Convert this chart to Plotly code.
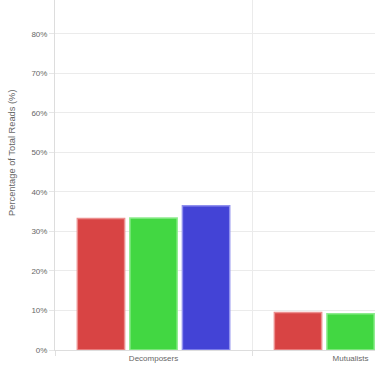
import plotly.graph_objects as go

categories = ["Decomposers", "Mutualists"]
series_names = ["Sample A", "Sample B", "Sample C"]
values_red = [33.3, 9.5]
values_green = [33.4, 9.2]
values_blue = [36.5, 8.8]
y_ticks = [0, 10, 20, 30, 40, 50, 60, 70, 80]
y_tick_labels = ["0%", "10%", "20%", "30%", "40%", "50%", "60%", "70%", "80%"]

fills = ["#D84444", "#42D742", "#4343D6"]
borders = ["#EC8E8E", "#8EEC8E", "#9090EE"]

fig = go.Figure()
for name, vals, fc, bc in zip(series_names, [values_red, values_green, values_blue], fills, borders):
    fig.add_trace(go.Bar(x=categories, y=vals, name=name,
                         marker=dict(color=fc, line=dict(color=bc, width=1.5))))

font = "Liberation Sans, Arial, Helvetica, sans-serif"
fig.update_layout(
    template="none",
    width=375, height=366,
    margin=dict(l=55, r=0, t=0, b=16, autoexpand=False),
    paper_bgcolor="white", plot_bgcolor="white",
    barmode="group", bargap=0.2, bargroupgap=0.1,
    showlegend=False,
    font=dict(family=font, size=8, color="#666666"),
    xaxis=dict(range=[-0.5, 1.124], tickson="boundaries", showgrid=True,
               gridcolor="#EBEBEB", gridwidth=1, ticks="outside", ticklen=5,
               tickcolor="#E0E0E0", showline=True, linecolor="#DDDDDD",
               tickfont=dict(family=font, size=8, color="#666666"),
               automargin=False, fixedrange=True),
    yaxis=dict(range=[0, 88.6], tickmode="array", tickvals=y_ticks, ticktext=y_tick_labels,
               showgrid=True, gridcolor="#EBEBEB", gridwidth=1,
               ticks="outside", ticklen=5, tickcolor="#E6E6E6",
               showline=True, linecolor="#DDDDDD", zeroline=False,
               tickfont=dict(family=font, size=8, color="#666666"),
               automargin=False, fixedrange=True),
    annotations=[dict(text="Percentage of Total Reads (%)", xref="paper", yref="paper",
                      x=-0.1345, y=(350 - 153) / 350, xanchor="center", yanchor="middle",
                      textangle=-90, showarrow=False,
                      font=dict(family=font, size=9.3, color="#666666"))],
)

fig.write_html("out.html", config={"displayModeBar": False},
               post_script="document.body.style.margin='0';document.body.style.overflow='hidden';")
